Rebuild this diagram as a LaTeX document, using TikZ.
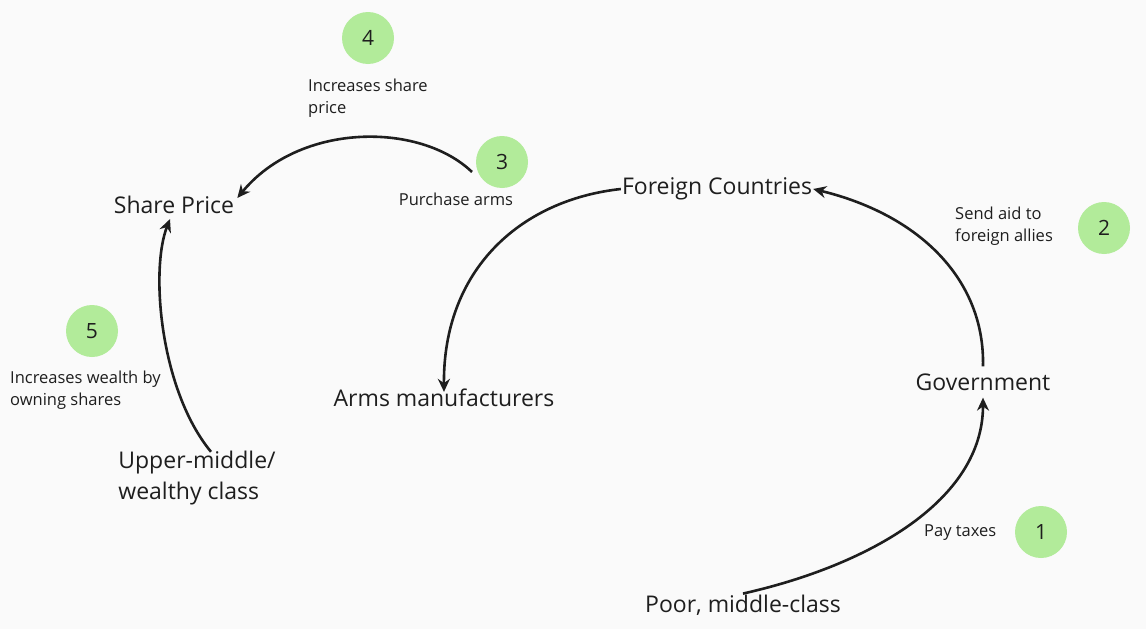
\documentclass[tikz,border=0pt]{standalone}
\usepackage{fontspec}
\setmainfont{Open Sans}
\usepackage{tikz}
\usetikzlibrary{arrows.meta, positioning, calc}
\definecolor{paper}{HTML}{FAFAFA}
\definecolor{stepgreen}{HTML}{B2EB9A}
\definecolor{ink}{HTML}{1E1E1E}
\tikzset{
  actor/.style={font=\fontsize{23}{31}\selectfont, text=ink, inner sep=1pt, align=left},
  note/.style={font=\fontsize{16.5}{22}\selectfont, text=ink, inner sep=0pt, align=left},
  stepnum/.style={circle, fill=stepgreen, minimum size=52pt, inner sep=0pt, font=\fontsize{21}{24}\selectfont, text=ink},
  flow/.style={-{Stealth[length=13pt,width=12pt]}, line width=2.6pt, draw=ink},
}

\begin{document}
\begin{tikzpicture}[x=1pt,y=-1pt]
\fill[paper] (0,0) rectangle (1146,629);
\useasboundingbox (0,0) rectangle (1146,629);

% Actors
\node[actor] (share) at (174,205) {Share Price};
\node[actor] (foreign) at (717,189) {Foreign Countries};
\node[actor] (arms) at (444,398) {Arms manufacturers};
\node[actor] (gov) at (983,382) {Government};
\node[actor] (upper) at (197,478) {Upper-middle/\\wealthy class};
\node[actor] (poor) at (743,605) {Poor, middle-class};

% Steps
\node[stepnum] (n1) at (1041,532) {1};
\node[stepnum] (n2) at (1104,228) {2};
\node[stepnum] (n3) at (502,162) {3};
\node[stepnum] (n4) at (368,38) {4};
\node[stepnum] (n5) at (92,331) {5};

% Step notes
\node[note, anchor=west] (l1) at (924,533) {Pay taxes};
\node[note, anchor=west] (l2) at (955,226) {Send aid to\\foreign allies};
\node[note] (l3) at (456,199) {Purchase arms};
\node[note, anchor=west] (l4) at (308,98) {Increases share\\price};
\node[note, anchor=west] (l5) at (10,390) {Increases wealth by\\owning shares};
\coordinate (buy) at (472,172);

% Flows
\draw[flow] (poor.north) .. controls (870,565) and (983,500) .. ([yshift=-6pt]gov.south);
\draw[flow] ([yshift=6pt]gov.north) .. controls (985,280) and (920,215) .. (foreign.east);
\draw[flow] (foreign.west) .. controls (520,200) and (443,270) .. ([yshift=-4pt]arms.north);
\draw[flow] (buy) .. controls (420,122) and (300,122) .. ([xshift=2pt,yshift=-3pt]share.north east);
\draw[flow] ([xshift=14pt,yshift=-2pt]upper.north) .. controls (160,390) and (150,270) .. ([xshift=-4pt,yshift=-4pt]share.south);
\end{tikzpicture}
\end{document}
